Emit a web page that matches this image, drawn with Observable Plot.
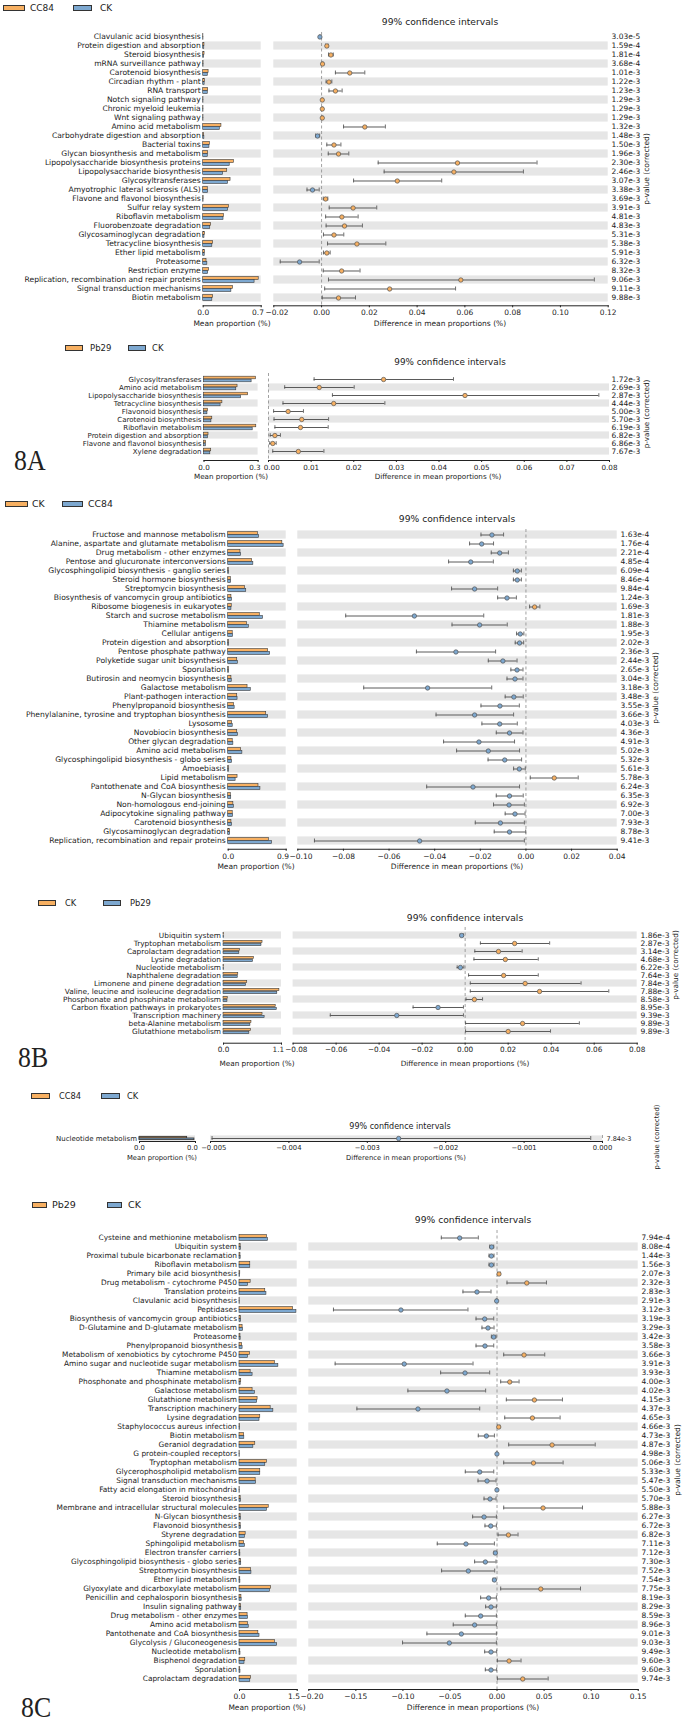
<!DOCTYPE html>
<html><head><meta charset="utf-8">
<script src="https://cdn.jsdelivr.net/npm/d3@7"></script>
<script src="https://cdn.jsdelivr.net/npm/@observablehq/plot@0.6"></script>
<style>
body{margin:0;background:#fff;}
#root{position:relative;width:685px;height:1723px;overflow:hidden;font-family:"DejaVu Sans",sans-serif;color:#222;}
.abs{position:absolute;white-space:nowrap;line-height:1;}
.sw{position:absolute;border:0.8px solid #333;box-sizing:border-box;}
</style></head><body><div id="root"></div>
<script>
// ---------- Panel 1: CC84 vs CK ----------
const p1Names = ["Clavulanic acid biosynthesis","Protein digestion and absorption","Steroid biosynthesis","mRNA surveillance pathway","Carotenoid biosynthesis","Circadian rhythm - plant","RNA transport","Notch signaling pathway","Chronic myeloid leukemia","Wnt signaling pathway","Amino acid metabolism","Carbohydrate digestion and absorption","Bacterial toxins","Glycan biosynthesis and metabolism","Lipopolysaccharide biosynthesis proteins","Lipopolysaccharide biosynthesis","Glycosyltransferases","Amyotrophic lateral sclerosis (ALS)","Flavone and flavonol biosynthesis","Sulfur relay system","Riboflavin metabolism","Fluorobenzoate degradation","Glycosaminoglycan degradation","Tetracycline biosynthesis","Ether lipid metabolism","Proteasome","Restriction enzyme","Replication, recombination and repair proteins","Signal transduction mechanisms","Biotin metabolism"];
const p1A = [0.002,0.015,0.016,0.004,0.065,0.02,0.06,0.003,0.003,0.003,0.22,0.012,0.08,0.06,0.37,0.29,0.33,0.055,0.005,0.31,0.25,0.095,0.02,0.12,0.02,0.04,0.07,0.67,0.36,0.12];
const p1B = [0.003,0.013,0.012,0.004,0.055,0.017,0.055,0.003,0.003,0.003,0.20,0.014,0.075,0.055,0.32,0.24,0.30,0.06,0.004,0.30,0.245,0.085,0.015,0.11,0.018,0.05,0.06,0.62,0.34,0.11];
const p1Diff = [-0.0007,0.0022,0.0039,0.0004,0.0118,0.0031,0.0058,0.0003,0.0003,0.0003,0.0181,-0.0017,0.0052,0.0071,0.0569,0.0554,0.0317,-0.0038,0.0017,0.0132,0.0085,0.0096,0.0052,0.0148,0.0022,-0.0092,0.0084,0.0583,0.0285,0.0071];
const p1Lo = [-0.0009,0.0017,0.0029,0.0002,0.0058,0.0019,0.0031,0.0001,0.0001,0.0001,0.0092,-0.0025,0.0022,0.0028,0.0237,0.0262,0.0134,-0.0061,0.0007,0.0032,0.0017,0.0019,0.0008,0.0025,0.0008,-0.0173,0.0007,0.0029,0.0013,0.0003];
const p1Hi = [-0.0005,0.0027,0.0049,0.0006,0.0181,0.0043,0.0086,0.0005,0.0005,0.0005,0.0267,-0.0008,0.0081,0.0114,0.0902,0.0845,0.0503,-0.0010,0.0026,0.0231,0.0153,0.0171,0.0093,0.0269,0.0036,-0.0010,0.0161,0.1142,0.0561,0.0142];
const p1P = ["3.03e-5","1.59e-4","1.81e-4","3.68e-4","1.01e-3","1.22e-3","1.23e-3","1.29e-3","1.29e-3","1.29e-3","1.32e-3","1.48e-3","1.50e-3","1.96e-3","2.30e-3","2.46e-3","3.07e-3","3.38e-3","3.69e-3","3.91e-3","4.81e-3","4.83e-3","5.31e-3","5.38e-3","5.91e-3","6.32e-3","8.32e-3","9.06e-3","9.11e-3","9.88e-3"];
const p1Ticks = [-0.02,0,0.02,0.04,0.06,0.08,0.10,0.12];

// ---------- Panel 2: Pb29 vs CK ----------
const p2Names = ["Glycosyltransferases","Amino acid metabolism","Lipopolysaccharide biosynthesis","Tetracycline biosynthesis","Flavonoid biosynthesis","Carotenoid biosynthesis","Riboflavin metabolism","Protein digestion and absorption","Flavone and flavonol biosynthesis","Xylene degradation"];
const p2A = [0.288,0.186,0.245,0.102,0.022,0.046,0.29,0.025,0.012,0.04];
const p2B = [0.264,0.179,0.206,0.092,0.019,0.041,0.27,0.022,0.010,0.035];
const p2Diff = [0.0270,0.0119,0.0461,0.0153,0.0046,0.0078,0.0075,0.0015,0.0010,0.0070];
const p2Lo = [0.0107,0.0038,0.0150,0.0034,0.0012,0.0013,0.0015,0.0004,0.0003,0.0010];
const p2Hi = [0.0434,0.0201,0.0775,0.0273,0.0082,0.0141,0.0140,0.0028,0.0018,0.0130];
const p2P = ["1.72e-3","2.69e-3","2.87e-3","4.44e-3","5.00e-3","5.70e-3","6.19e-3","6.82e-3","6.86e-3","7.67e-3"];
const p2Ticks = [0,0.01,0.02,0.03,0.04,0.05,0.06,0.07,0.08];

// ---------- Panel 3: CK vs CC84 ----------
const p3Names = ["Fructose and mannose metabolism","Alanine, aspartate and glutamate metabolism","Drug metabolism - other enzymes","Pentose and glucuronate interconversions","Glycosphingolipid biosynthesis - ganglio series","Steroid hormone biosynthesis","Streptomycin biosynthesis","Biosynthesis of vancomycin group antibiotics","Ribosome biogenesis in eukaryotes","Starch and sucrose metabolism","Thiamine metabolism","Cellular antigens","Protein digestion and absorption","Pentose phosphate pathway","Polyketide sugar unit biosynthesis","Sporulation","Butirosin and neomycin biosynthesis","Galactose metabolism","Plant-pathogen interaction","Phenylpropanoid biosynthesis","Phenylalanine, tyrosine and tryptophan biosynthesis","Lysosome","Novobiocin biosynthesis","Other glycan degradation","Amino acid metabolism","Glycosphingolipid biosynthesis - globo series","Amoebiasis","Lipid metabolism","Pantothenate and CoA biosynthesis","N-Glycan biosynthesis","Non-homologous end-joining","Adipocytokine signaling pathway","Carotenoid biosynthesis","Glycosaminoglycan degradation","Replication, recombination and repair proteins"];
const p3A = [0.46,0.84,0.19,0.37,0.008,0.04,0.26,0.05,0.055,0.49,0.29,0.07,0.01,0.62,0.14,0.01,0.05,0.30,0.14,0.09,0.59,0.06,0.14,0.07,0.20,0.05,0.01,0.145,0.47,0.04,0.08,0.07,0.05,0.025,0.63];
const p3B = [0.48,0.86,0.20,0.39,0.012,0.045,0.28,0.058,0.05,0.54,0.32,0.075,0.013,0.65,0.15,0.014,0.055,0.35,0.145,0.10,0.62,0.07,0.15,0.08,0.22,0.06,0.013,0.115,0.50,0.047,0.088,0.075,0.06,0.03,0.68];
const p3Diff = [-0.0149,-0.0194,-0.0115,-0.0242,-0.0038,-0.0038,-0.0225,-0.0083,0.0038,-0.0489,-0.0203,-0.0025,-0.0028,-0.0307,-0.0101,-0.0039,-0.0048,-0.0431,-0.0053,-0.0114,-0.0225,-0.0115,-0.0072,-0.0206,-0.0165,-0.0093,-0.0029,0.0124,-0.0232,-0.0072,-0.0074,-0.0048,-0.0112,-0.0072,-0.0466];
const p3Lo = [-0.0197,-0.0247,-0.0152,-0.0339,-0.0055,-0.0055,-0.0326,-0.0124,0.0016,-0.0790,-0.0324,-0.0041,-0.0047,-0.0480,-0.0165,-0.0066,-0.0083,-0.0711,-0.0091,-0.0197,-0.0394,-0.0193,-0.0130,-0.0361,-0.0304,-0.0166,-0.0054,0.0019,-0.0435,-0.0130,-0.0142,-0.0091,-0.0222,-0.0139,-0.0927];
const p3Hi = [-0.0098,-0.0142,-0.0077,-0.0143,-0.0020,-0.0020,-0.0124,-0.0042,0.0061,-0.0185,-0.0082,-0.0009,-0.0010,-0.0133,-0.0039,-0.0013,-0.0013,-0.0150,-0.0012,-0.0029,-0.0054,-0.0038,-0.0013,-0.0050,-0.0028,-0.0019,-0.0003,0.0229,-0.0028,-0.0012,-0.0007,-0.0004,-0.0007,-0.0001,-0.0007];
const p3P = ["1.63e-4","1.76e-4","2.21e-4","4.85e-4","6.09e-4","8.46e-4","9.84e-4","1.24e-3","1.69e-3","1.81e-3","1.88e-3","1.95e-3","2.02e-3","2.36e-3","2.44e-3","2.65e-3","3.04e-3","3.18e-3","3.48e-3","3.55e-3","3.66e-3","4.03e-3","4.36e-3","4.91e-3","5.02e-3","5.32e-3","5.61e-3","5.78e-3","6.24e-3","6.35e-3","6.92e-3","7.00e-3","7.93e-3","8.78e-3","9.41e-3"];
const p3Ticks = [-0.10,-0.08,-0.06,-0.04,-0.02,0,0.02,0.04];

// ---------- Panel 4: CK vs Pb29 ----------
const p4Names = ["Ubiquitin system","Tryptophan metabolism","Caprolactam degradation","Lysine degradation","Nucleotide metabolism","Naphthalene degradation","Limonene and pinene degradation","Valine, leucine and isoleucine degradation","Phosphonate and phosphinate metabolism","Carbon fixation pathways in prokaryotes","Transcription machinery","beta-Alanine metabolism","Glutathione metabolism"];
const p4A = [0.01,0.74,0.31,0.575,0.01,0.28,0.45,1.06,0.08,0.99,0.74,0.53,0.52];
const p4B = [0.012,0.72,0.30,0.56,0.012,0.27,0.43,1.02,0.075,1.01,0.78,0.51,0.49];
const p4Diff = [-0.0016,0.0230,0.0155,0.0187,-0.0022,0.0179,0.0279,0.0346,0.0043,-0.0126,-0.0318,0.0267,0.0200];
const p4Lo = [-0.0024,0.0071,0.0045,0.0041,-0.0037,0.0016,0.0024,0.0024,0.0004,-0.0242,-0.0627,0.0002,0.0002];
const p4Hi = [-0.0008,0.0393,0.0265,0.0340,-0.0006,0.0340,0.0539,0.0668,0.0081,-0.0008,-0.0008,0.0531,0.0397];
const p4P = ["1.86e-3","2.87e-3","3.14e-3","4.68e-3","6.22e-3","7.64e-3","7.84e-3","7.88e-3","8.58e-3","8.95e-3","9.39e-3","9.89e-3","9.89e-3"];
const p4Ticks = [-0.08,-0.06,-0.04,-0.02,0,0.02,0.04,0.06,0.08];

// ---------- Panel 5: CC84 vs CK ----------
const p5Names = ["Nucleotide metabolism"];
const p5A = [0.0085];
const p5B = [0.0098];
const p5Diff = [-0.0026];
const p5Lo = [-0.00498];
const p5Hi = [-0.00015];
const p5P = ["7.84e-3"];
const p5Ticks = [-0.005,-0.004,-0.003,-0.002,-0.001,0];

// ---------- Panel 6: Pb29 vs CK ----------
const p6Names = ["Cysteine and methionine metabolism","Ubiquitin system","Proximal tubule bicarbonate reclamation","Riboflavin metabolism","Primary bile acid biosynthesis","Drug metabolism - cytochrome P450","Translation proteins","Clavulanic acid biosynthesis","Peptidases","Biosynthesis of vancomycin group antibiotics","D-Glutamine and D-glutamate metabolism","Proteasome","Phenylpropanoid biosynthesis","Metabolism of xenobiotics by cytochrome P450","Amino sugar and nucleotide sugar metabolism","Thiamine metabolism","Phosphonate and phosphinate metabolism","Galactose metabolism","Glutathione metabolism","Transcription machinery","Lysine degradation","Staphylococcus aureus infection","Biotin metabolism","Geraniol degradation","G protein-coupled receptors","Tryptophan metabolism","Glycerophospholipid metabolism","Signal transduction mechanisms","Fatty acid elongation in mitochondria","Steroid biosynthesis","Membrane and intracellular structural molecules","N-Glycan biosynthesis","Flavonoid biosynthesis","Styrene degradation","Sphingolipid metabolism","Electron transfer carriers","Glycosphingolipid biosynthesis - globo series","Streptomycin biosynthesis","Ether lipid metabolism","Glyoxylate and dicarboxylate metabolism","Penicillin and cephalosporin biosynthesis","Insulin signaling pathway","Drug metabolism - other enzymes","Amino acid metabolism","Pantothenate and CoA biosynthesis","Glycolysis / Gluconeogenesis","Nucleotide metabolism","Bisphenol degradation","Sporulation","Caprolactam degradation"];
const p6A = [0.71,0.03,0.025,0.28,0.02,0.29,0.67,0.005,1.39,0.035,0.08,0.025,0.07,0.27,0.92,0.29,0.045,0.34,0.47,0.81,0.54,0.015,0.12,0.41,0.005,0.71,0.54,0.42,0.005,0.03,0.76,0.03,0.03,0.16,0.12,0.02,0.04,0.30,0.02,0.82,0.05,0.04,0.21,0.22,0.49,0.92,0.02,0.15,0.02,0.30];
const p6B = [0.74,0.035,0.03,0.28,0.018,0.22,0.70,0.006,1.48,0.04,0.09,0.03,0.08,0.22,1.01,0.34,0.03,0.40,0.46,0.88,0.52,0.013,0.125,0.36,0.006,0.67,0.54,0.43,0.006,0.035,0.71,0.035,0.035,0.14,0.14,0.022,0.045,0.31,0.023,0.79,0.055,0.045,0.22,0.24,0.52,0.98,0.025,0.13,0.025,0.28];
const p6Diff = [-0.0397,-0.0057,-0.0060,-0.0060,0.0021,0.0316,-0.0213,-0.0004,-0.1021,-0.0131,-0.0096,-0.0035,-0.0128,0.0287,-0.0986,-0.0340,0.0135,-0.0532,0.0397,-0.0840,0.0376,0.0018,-0.0113,0.0585,-0.0001,0.0387,-0.0184,-0.0106,-0.0001,-0.0074,0.0489,-0.0138,-0.0067,0.0121,-0.0330,-0.0018,-0.0124,-0.0305,-0.0028,0.0465,-0.0089,-0.0064,-0.0174,-0.0238,-0.0379,-0.0507,-0.0064,0.0128,-0.0064,0.0273];
const p6Lo = [-0.0592,-0.0078,-0.0085,-0.0085,0.0007,0.0106,-0.0362,-0.0008,-0.1738,-0.0223,-0.0160,-0.0060,-0.0223,0.0071,-0.1720,-0.0599,0.0039,-0.0947,0.0099,-0.1489,0.0082,0.0006,-0.0199,0.0124,-0.0004,0.0071,-0.0337,-0.0202,-0.0004,-0.0138,0.0071,-0.0259,-0.0128,0.0011,-0.0635,-0.0032,-0.0238,-0.0589,-0.0042,0.0039,-0.0174,-0.0121,-0.0337,-0.0465,-0.0745,-0.1004,-0.0131,0.0004,-0.0124,0.0004];
const p6Hi = [-0.0199,-0.0035,-0.0032,-0.0032,0.0035,0.0525,-0.0064,0.0000,-0.0309,-0.0035,-0.0032,-0.0011,-0.0035,0.0507,-0.0255,-0.0078,0.0234,-0.0121,0.0695,-0.0184,0.0670,0.0030,-0.0028,0.1043,0.0002,0.0702,-0.0035,-0.0011,0.0002,-0.0011,0.0908,-0.0007,-0.0007,0.0223,-0.0028,-0.0004,-0.0011,-0.0025,-0.0014,0.0887,-0.0007,-0.0007,-0.0007,-0.0007,-0.0007,-0.0007,-0.0004,0.0255,-0.0004,0.0543];
const p6P = ["7.94e-4","8.08e-4","1.44e-3","1.56e-3","2.07e-3","2.32e-3","2.83e-3","2.91e-3","3.12e-3","3.19e-3","3.29e-3","3.42e-3","3.58e-3","3.66e-3","3.91e-3","3.93e-3","4.00e-3","4.02e-3","4.15e-3","4.37e-3","4.65e-3","4.66e-3","4.73e-3","4.87e-3","4.98e-3","5.06e-3","5.33e-3","5.47e-3","5.50e-3","5.70e-3","5.88e-3","6.27e-3","6.72e-3","6.82e-3","7.11e-3","7.12e-3","7.30e-3","7.52e-3","7.54e-3","7.75e-3","8.19e-3","8.29e-3","8.59e-3","8.96e-3","9.01e-3","9.03e-3","9.49e-3","9.60e-3","9.60e-3","9.74e-3"];
const p6Ticks = [-0.20,-0.15,-0.10,-0.05,0,0.05,0.10,0.15];

// ---------- drawing ----------
const ORANGE = "#F7B062", BLUE = "#7DA8D0", EDGE = "#3a3a3a", BAND = "#e6e6e6", CI = "#5a5a5a";
const FONT = '"DejaVu Sans", sans-serif';
const root = document.getElementById("root");

function addText(s, x, y, o = {}) {
  const d = document.createElement("div");
  d.className = "abs";
  d.textContent = s;
  d.style.left = x + "px"; d.style.top = y + "px";
  d.style.fontSize = (o.size || 8) + "px";
  if (o.family) d.style.fontFamily = o.family;
  const a = o.anchor || "middle";
  const tx = a === "middle" ? "-50%" : a === "end" ? "-100%" : "0";
  d.style.transform = `translate(${tx},-50%)` + (o.rotate ? ` rotate(${o.rotate}deg)` : "") + (o.sx ? ` scaleX(${o.sx})` : "");
  if (o.sx) d.style.transformOrigin = "0 50%";
  root.appendChild(d);
}
function addLegend(y, items, size) {
  for (const it of items) {
    const s = document.createElement("div");
    s.className = "sw";
    s.style.left = it.x + "px"; s.style.top = (y - 3) + "px";
    s.style.width = it.w + "px"; s.style.height = "6px"; s.style.background = it.color;
    root.appendChild(s);
    addText(it.label, it.tx, y, {size, anchor: "start"});
  }
}
function place(svg, top) {
  svg.style.position = "absolute"; svg.style.left = "0px"; svg.style.top = top + "px";
  svg.style.maxWidth = "none";
  root.appendChild(svg);
}
function shiftTick(svg, which, dx) {
  const ts = svg.querySelectorAll('[aria-label="x-axis tick label"] text');
  if (!ts.length) return;
  const t = which === "last" ? ts[ts.length - 1] : ts[0];
  t.setAttribute("dx", dx);
}

function panel(c) {
  const n = c.names.length;
  const rows = c.names.map((name, i) => ({name, a: c.a[i], b: c.b[i], diff: c.diff[i], lo: c.lo[i], hi: c.hi[i], p: c.p[i], shade: (n - 1 - i) % 2 === 0}));
  const shaded = rows.filter(d => d.shade);
  const s = c.step, mt = 4, ib = c.ib ?? 3, mb = 26;
  const top = c.first - s / 2 - mt;
  const height = mt + n * s + ib + mb;
  const style = {fontFamily: FONT, fontSize: c.tfs + "px", overflow: "visible", background: "transparent", color: "#222"};
  const half = s / 2, bh = c.bh ?? 3, bw = c.bw ?? 0.6;

  const left = Plot.plot({
    width: 685, height, marginLeft: c.lx0, marginRight: 685 - c.lx1, marginTop: mt, marginBottom: mb,
    style,
    x: {domain: [0, c.lmax], ticks: [0, c.lmax], tickFormat: d3.format(".1f"), tickSize: 2, tickPadding: 2, line: true, label: null},
    y: {domain: c.names, padding: 0, insetBottom: ib, label: null, tickSize: 0, tickPadding: 2.5},
    marks: [
      Plot.barX(shaded, {y: "name", x1: 0, x2: c.lmax, fill: BAND, insetTop: 0.4, insetBottom: 0.4}),
      Plot.barX(rows, {y: "name", x: "a", fill: ORANGE, stroke: EDGE, strokeWidth: bw, insetTop: half - bh, insetBottom: half}),
      Plot.barX(rows, {y: "name", x: "b", fill: BLUE, stroke: EDGE, strokeWidth: bw, insetTop: half, insetBottom: half - bh})
    ]
  });
  left.querySelectorAll('[aria-label="y-axis tick label"]').forEach(g => g.setAttribute("font-size", c.lfs));
  shiftTick(left, "last", -3.2);
  place(left, top);

  const right = Plot.plot({
    width: 685, height, marginLeft: c.rx0, marginRight: 685 - c.rx1, marginTop: mt, marginBottom: mb,
    style,
    x: {domain: c.rdom, ticks: c.rticks, tickFormat: d3.format(c.rfmt), tickSize: 2, tickPadding: 2, line: true, label: null},
    y: {domain: c.names, padding: 0, insetBottom: ib, axis: null},
    marks: [
      Plot.barX(shaded, {y: "name", x1: c.rdom[0], x2: c.rdom[1], fill: BAND, insetTop: 0.4, insetBottom: 0.4}),
      Plot.ruleX([0], {stroke: "#8a8a8a", strokeDasharray: "3,2.5", strokeWidth: 0.8}),
      Plot.ruleY(rows, {y: "name", x1: "lo", x2: "hi", stroke: CI, strokeWidth: 1}),
      Plot.tickX(rows, {x: "lo", y: "name", stroke: CI, strokeWidth: 0.9, insetTop: half - 2, insetBottom: half - 2}),
      Plot.tickX(rows, {x: "hi", y: "name", stroke: CI, strokeWidth: 0.9, insetTop: half - 2, insetBottom: half - 2}),
      Plot.dot(rows, {x: "diff", y: "name", r: 2.2, fill: d => d.diff >= 0 ? ORANGE : BLUE, stroke: "#555", strokeWidth: 0.7}),
      Plot.text(rows, {y: "name", text: "p", frameAnchor: "right", dx: c.px - c.rx1, textAnchor: "start", fontSize: c.pfs, fill: "#222"})
    ]
  });
  shiftTick(right, "first", 3.2);
  place(right, top);

  addLegend(c.legY, c.legend, c.legFs);
  addText("99% confidence intervals", c.titleX, c.titleY, {size: c.titleFs});
  addText("Mean proportion (%)", c.mX, c.axY, {size: c.afs});
  addText("Difference in mean proportions (%)", c.dX, c.axY, {size: c.afs});
  addText("p-value (corrected)", c.rotX, c.rotY, {size: c.afs, rotate: -90});
}

panel({names: p1Names, a: p1A, b: p1B, diff: p1Diff, lo: p1Lo, hi: p1Hi, p: p1P,
  first: 37, step: 9.01, lx0: 202.7, lx1: 260.7, lmax: 0.7, rx0: 273.3, rx1: 607.7, rdom: [-0.02, 0.12], rticks: p1Ticks, rfmt: ".2f",
  px: 611, lfs: 7.6, tfs: 7.5, pfs: 7.5, afs: 7.5,
  legY: 7.5, legFs: 9, legend: [{x: 3.3, w: 21.7, label: "CC84", tx: 30, color: ORANGE}, {x: 73, w: 19, label: "CK", tx: 100, color: BLUE}],
  titleX: 440, titleY: 22, titleFs: 9.2, mX: 232, dX: 440, axY: 324, rotX: 647, rotY: 169});

panel({names: p2Names, a: p2A, b: p2B, diff: p2Diff, lo: p2Lo, hi: p2Hi, p: p2P,
  first: 376.7, step: 8.4, lx0: 203.5, lx1: 257.6, lmax: 0.3, rx0: 268, rx1: 609, rdom: [0, 0.08], rticks: p2Ticks, rfmt: ".2f",
  px: 611, lfs: 7.0, tfs: 7.2, pfs: 7.5, afs: 7.2,
  legY: 348, legFs: 8.5, legend: [{x: 65, w: 18, label: "Pb29", tx: 90, color: ORANGE}, {x: 128, w: 18, label: "CK", tx: 152, color: BLUE}],
  titleX: 450, titleY: 362, titleFs: 8.8, mX: 231, dX: 438, axY: 477, rotX: 647, rotY: 414});

panel({names: p3Names, a: p3A, b: p3B, diff: p3Diff, lo: p3Lo, hi: p3Hi, p: p3P,
  first: 534, step: 9.05, lx0: 227.7, lx1: 285.7, lmax: 0.9, rx0: 297.3, rx1: 616.7, rdom: [-0.10, 0.04], rticks: p3Ticks, rfmt: ".2f",
  px: 620, lfs: 7.6, tfs: 7.5, pfs: 7.5, afs: 7.5,
  legY: 504, legFs: 9.3, legend: [{x: 5, w: 23, label: "CK", tx: 32, color: ORANGE}, {x: 62, w: 21, label: "CC84", tx: 88, color: BLUE}],
  titleX: 457, titleY: 519, titleFs: 9.2, mX: 256, dX: 457, axY: 867, rotX: 656, rotY: 688});

panel({names: p4Names, a: p4A, b: p4B, diff: p4Diff, lo: p4Lo, hi: p4Hi, p: p4P,
  first: 931.7, step: 8.67, lx0: 223, lx1: 281, lmax: 1.1, rx0: 292.6, rx1: 636.7, rdom: [-0.08, 0.08], rticks: p4Ticks, rfmt: ".2f",
  px: 640, lfs: 7.4, tfs: 7.3, pfs: 7.6, afs: 7.3,
  legY: 903, legFs: 8.3, legend: [{x: 38, w: 18, label: "CK", tx: 65, color: ORANGE}, {x: 103, w: 18, label: "Pb29", tx: 130, color: BLUE}],
  titleX: 465, titleY: 918, titleFs: 9.2, mX: 257, dX: 465, axY: 1064, rotX: 676, rotY: 965});

panel({names: p5Names, a: p5A, b: p5B, diff: p5Diff, lo: p5Lo, hi: p5Hi, p: p5P,
  first: 1137.7, step: 6, ib: 0, bh: 1.6, bw: 0.9, lx0: 139, lx1: 195, lmax: 0.01, rx0: 210, rx1: 602, rdom: [-0.005, 0], rticks: p5Ticks, rfmt: ".3f",
  px: 606, lfs: 7.0, tfs: 6.8, pfs: 6.5, afs: 6.8,
  legY: 1096, legFs: 8.3, legend: [{x: 31, w: 19, label: "CC84", tx: 59, color: ORANGE}, {x: 101, w: 19, label: "CK", tx: 127, color: BLUE}],
  titleX: 400, titleY: 1127, titleFs: 8, mX: 162, dX: 406, axY: 1158, rotX: 657, rotY: 1137});

panel({names: p6Names, a: p6A, b: p6B, diff: p6Diff, lo: p6Lo, hi: p6Hi, p: p6P,
  first: 1235, step: 9.12, lx0: 239, lx1: 296.7, lmax: 1.5, rx0: 308.3, rx1: 637.7, rdom: [-0.20, 0.15], rticks: p6Ticks, rfmt: ".2f",
  px: 641, lfs: 7.4, tfs: 7.5, pfs: 7.5, afs: 7.5,
  legY: 1205, legFs: 9.5, legend: [{x: 32, w: 15, label: "Pb29", tx: 52, color: ORANGE}, {x: 107, w: 15, label: "CK", tx: 128, color: BLUE}],
  titleX: 473, titleY: 1220, titleFs: 9.2, mX: 267, dX: 473, axY: 1708, rotX: 678, rotY: 1460});

const serif = '"Liberation Serif", "DejaVu Serif", serif';
addText("8A", 14, 460, {size: 30, anchor: "start", family: serif, sx: 0.86});
addText("8B", 18, 1057, {size: 30, anchor: "start", family: serif, sx: 0.86});
addText("8C", 21, 1707, {size: 30, anchor: "start", family: serif, sx: 0.86});
</script></body></html>
